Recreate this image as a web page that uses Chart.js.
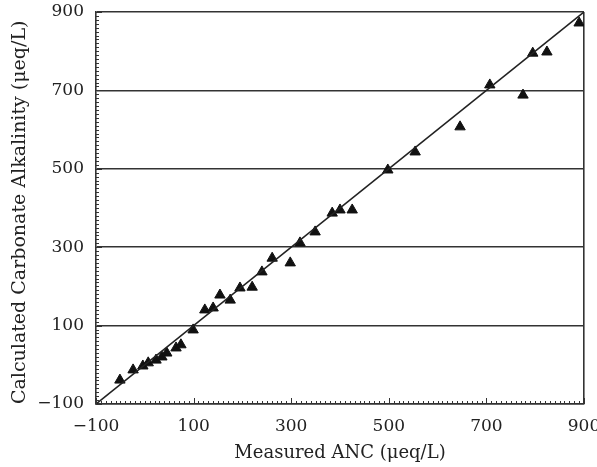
<!DOCTYPE html>
<html>
<head>
<meta charset="utf-8">
<script src="https://cdn.jsdelivr.net/npm/chart.js@4/dist/chart.umd.min.js"></script>
<style>
    body { margin: 0; background: #fff; }
    #grafico { width: 597px; height: 467px; }
</style>
</head>
<body>
<div id="grafico"><canvas id="graficoANC"></canvas></div>
<script>
// Dados (µeq/L)
const ancMedido = [-51, -24, -4, 7, 23, 35, 45, 64, 74, 99, 123, 140, 154, 175, 195, 220, 240, 261, 298,
    318, 349, 384, 400, 425, 498, 554, 646, 707, 775, 795, 824, 890];
const alcalinidadeCalculada = [-39, -13, -3, 5, 12, 20, 30, 43, 51, 89, 140, 145, 178, 165, 196, 198, 237, 272, 260,
    311, 339, 387, 395, 395, 497, 543, 607, 714, 688, 795, 798, 872];

// Linha 1:1
const linhaX = [-100, 900];
const linhaY = [-100, 900];

const marcasEixo = [-100, 100, 300, 500, 700, 900];

const corEixo = '#333';
const fonteSerif = "'DejaVu Serif', 'Liberation Serif', serif";

function formatarMarca(valor) {
    return valor < 0 ? '\u2212' + Math.abs(valor) : String(valor);
}

// Pequenas marcas internas a cada 10 unidades
const marcasMenores = {
    id: 'marcasMenores',
    afterDatasetsDraw(chart) {
        const { ctx, chartArea, scales } = chart;
        ctx.save();
        ctx.strokeStyle = corEixo;
        ctx.lineWidth = 1;
        for (let v = -100; v <= 900; v += 10) {
            const comp = (v + 100) % 200 === 0 ? 6 : 3;
            const px = Math.round(scales.x.getPixelForValue(v)) + 0.5;
            ctx.beginPath();
            ctx.moveTo(px, chartArea.bottom);
            ctx.lineTo(px, chartArea.bottom - comp);
            ctx.stroke();
            const py = Math.round(scales.y.getPixelForValue(v)) + 0.5;
            ctx.beginPath();
            ctx.moveTo(chartArea.left, py);
            ctx.lineTo(chartArea.left + comp, py);
            ctx.stroke();
        }
        ctx.restore();
    }
};

function inicializarGrafico() {
    Chart.defaults.font.family = fonteSerif;
    Chart.defaults.color = '#222';

    new Chart(document.getElementById('graficoANC').getContext('2d'), {
        data: {
            datasets: [
                {
                    type: 'line',
                    label: '1:1',
                    data: linhaX.map((x, i) => ({ x: x, y: linhaY[i] })),
                    borderColor: '#222',
                    borderWidth: 1.6,
                    pointRadius: 0,
                    fill: false
                },
                {
                    type: 'scatter',
                    label: 'Dados',
                    data: ancMedido.map((x, i) => ({ x: x, y: alcalinidadeCalculada[i] })),
                    pointStyle: 'triangle',
                    pointRadius: 6,
                    backgroundColor: '#111',
                    borderColor: '#111',
                    borderWidth: 1
                }
            ]
        },
        options: {
            responsive: true,
            maintainAspectRatio: false,
            animation: false,
            layout: { padding: { left: 0, right: 13, top: 12, bottom: 0 } },
            plugins: {
                legend: { display: false },
                tooltip: { enabled: false }
            },
            scales: {
                x: {
                    type: 'linear',
                    min: -100,
                    max: 900,
                    afterBuildTicks: scale => { scale.ticks = marcasEixo.map(v => ({ value: v })); },
                    ticks: {
                        callback: formatarMarca,
                        font: { size: 17 },
                        color: '#222',
                        padding: 12,
                        maxRotation: 0
                    },
                    grid: {
                        color: ctx => ctx.tick && ctx.tick.value === 900 ? corEixo : 'rgba(0,0,0,0)',
                        lineWidth: 1.6,
                        drawTicks: false
                    },
                    border: { color: corEixo, width: 1.6 },
                    title: {
                        display: true,
                        text: 'Measured ANC (\u03BCeq/L)',
                        font: { size: 18 },
                        color: '#222',
                        padding: { top: 4, bottom: 3 }
                    },
                    afterFit: scale => {
                        scale.height = 63;
                        scale.paddingLeft = 0;
                        scale.paddingRight = 0;
                    }
                },
                y: {
                    type: 'linear',
                    min: -100,
                    max: 900,
                    afterBuildTicks: scale => { scale.ticks = marcasEixo.map(v => ({ value: v })); },
                    ticks: {
                        callback: formatarMarca,
                        font: { size: 17 },
                        color: '#222',
                        padding: 12
                    },
                    grid: {
                        color: corEixo,
                        lineWidth: 1.6,
                        drawTicks: false
                    },
                    border: { color: corEixo, width: 1.6 },
                    title: {
                        display: true,
                        text: 'Calculated Carbonate Alkalinity (\u03BCeq/L)',
                        align: 'start',
                        font: { size: 19 },
                        color: '#222',
                        padding: { top: 9, bottom: 4 }
                    },
                    afterFit: scale => {
                        scale.width = 96;
                        scale.paddingTop = 0;
                        scale.paddingBottom = 0;
                    }
                }
            }
        },
        plugins: [marcasMenores]
    });
}

document.addEventListener('DOMContentLoaded', () => {
    inicializarGrafico();
});
</script>
</body>
</html>
